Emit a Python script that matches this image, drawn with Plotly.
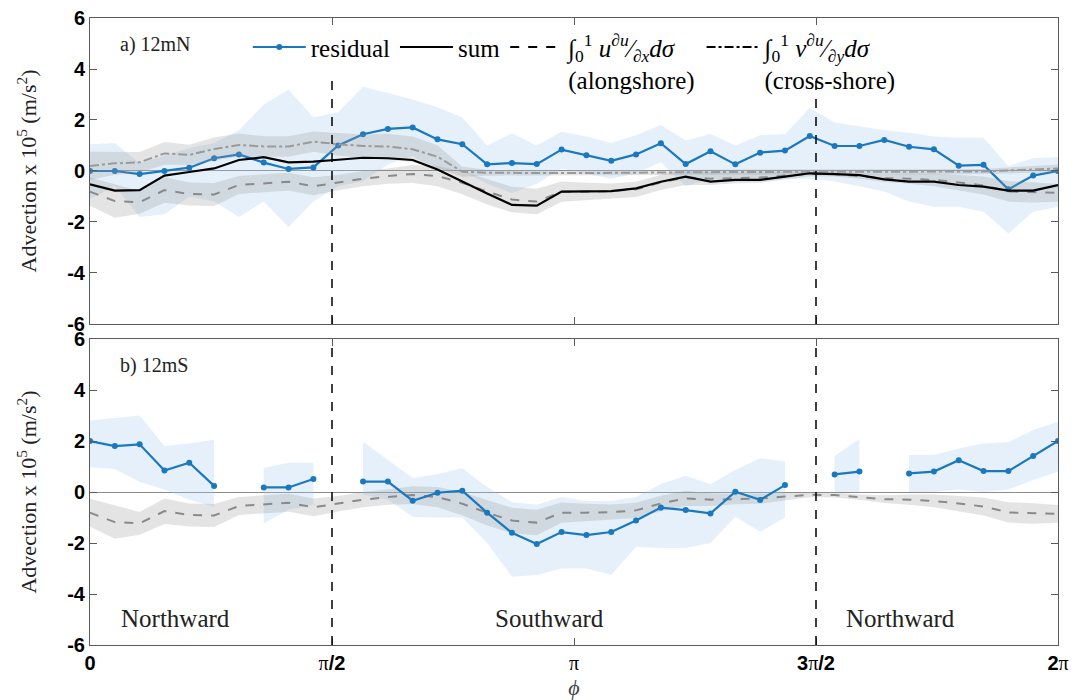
import numpy as np
import plotly.graph_objects as go

# ---------------- data ----------------
n_pts = 40
phi = np.linspace(0, 2 * np.pi, n_pts)

# panel a) 12mN
residual_a = [0.0, 0.0, -0.12, 0.0, 0.13, 0.5, 0.65, 0.33, 0.08, 0.14, 1.0, 1.44, 1.65, 1.71, 1.24, 1.05,
              0.26, 0.31, 0.27, 0.84, 0.62, 0.40, 0.65, 1.09, 0.27, 0.77, 0.26, 0.72, 0.80, 1.37, 0.98,
              0.98, 1.22, 0.95, 0.85, 0.21, 0.24, -0.72, -0.18, 0.0]
residual_a_hi = [1.05, 1.1, 0.3, 0.6, 0.9, 1.1, 1.6, 2.6, 3.2, 2.1, 2.3, 3.3, 3.05, 2.8, 2.5, 2.1, 1.0,
                 1.48, 1.0, 1.54, 1.35, 1.1, 1.4, 1.8, 1.2, 1.45, 1.0, 1.4, 1.45, 2.47, 1.9, 1.75, 1.6,
                 1.5, 1.35, 1.3, 1.3, 0.2, 0.5, 0.55]
residual_a_lo = [-1.1, -0.6, -1.8, -1.7, -1.0, -1.2, -1.8, -1.2, -2.2, -1.2, -0.6, -0.4, 0.25, 0.6, 0.0,
                 0.0, -0.5, -0.86, -0.5, 0.1, -0.1, -0.3, -0.1, 0.35, -0.6, -0.3, -0.4, -0.4, -0.3,
                 -0.3, -0.4, -0.6, -0.8, -1.2, -1.4, -1.4, -1.6, -2.45, -1.6, -1.4]
sum_a = [-0.52, -0.77, -0.75, -0.18, -0.04, 0.10, 0.43, 0.54, 0.34, 0.37, 0.44, 0.52, 0.50, 0.43, 0.06,
         -0.42, -0.88, -1.33, -1.36, -0.81, -0.81, -0.79, -0.68, -0.42, -0.22, -0.42, -0.35, -0.35,
         -0.22, -0.09, -0.12, -0.16, -0.33, -0.42, -0.42, -0.55, -0.61, -0.77, -0.77, -0.55]
cross_a = [0.20, 0.30, 0.34, 0.69, 0.63, 0.86, 1.02, 0.96, 0.96, 1.15, 1.05, 0.98, 0.96, 0.85, 0.56,
           -0.03, -0.07, -0.08, -0.08, -0.08, -0.08, -0.08, -0.07, -0.06, -0.05, -0.04, -0.04, -0.04,
           -0.03, -0.03, -0.03, -0.03, -0.03, -0.03, -0.03, -0.03, -0.02, 0.02, 0.06, 0.10]
cross_err = [0.55, 0.45, 0.4, 0.45, 0.4, 0.45, 0.45, 0.4, 0.4, 0.4, 0.45, 0.45, 0.5, 0.5, 0.45, 0.2,
             0.12, 0.1, 0.1, 0.1, 0.1, 0.1, 0.1, 0.1, 0.1, 0.1, 0.1, 0.1, 0.1, 0.1, 0.1, 0.1, 0.1, 0.1,
             0.1, 0.1, 0.1, 0.12, 0.14, 0.15]

# alongshore term (same in both panels)
along = [-0.81, -1.18, -1.23, -0.75, -0.90, -0.92, -0.55, -0.48, -0.42, -0.60, -0.46, -0.30, -0.20,
         -0.12, -0.20, -0.46, -0.81, -1.12, -1.20, -0.81, -0.81, -0.79, -0.72, -0.45, -0.25, -0.30,
         -0.28, -0.26, -0.18, -0.11, -0.12, -0.20, -0.28, -0.30, -0.35, -0.45, -0.57, -0.80, -0.84, -0.86]
along_err = [0.55, 0.65, 0.45, 0.5, 0.45, 0.45, 0.35, 0.35, 0.35, 0.35, 0.3, 0.3, 0.3, 0.35, 0.4, 0.45,
             0.5, 0.5, 0.5, 0.4, 0.35, 0.3, 0.3, 0.3, 0.3, 0.25, 0.2, 0.2, 0.15, 0.1, 0.1, 0.1, 0.15,
             0.2, 0.25, 0.3, 0.35, 0.4, 0.4, 0.35]

# panel b) 12mS
residual_b = [2.0, 1.8, 1.87, 0.84, 1.15, 0.24, None, 0.18, 0.18, 0.51, None, 0.41, 0.41, -0.34, -0.03,
              0.05, -0.81, -1.6, -2.04, -1.57, -1.69, -1.57, -1.12, -0.61, -0.71, -0.84, 0.01, -0.31,
              0.27, None, 0.69, 0.8, None, 0.73, 0.8, 1.25, 0.82, 0.82, 1.41, 2.0]
residual_b_hi = [2.8, 2.9, 3.0, 1.8, 1.9, 2.05, None, 0.95, 1.15, 1.15, None, 1.97, 1.25, 0.55, 0.7,
                 0.93, 0.2, -0.4, -0.5, -0.2, -0.35, -0.35, -0.2, 0.31, 0.64, 0.3, 0.86, 1.32, 1.2,
                 None, 1.41, 2.08, None, 1.45, 1.45, 1.71, 1.9, 1.95, 2.43, 2.76]
residual_b_lo = [0.97, 0.9, 0.4, 0.1, -0.3, -0.58, None, -1.23, -0.7, -0.5, None, -0.1, -0.3, -0.97,
                 -1.0, -1.0, -2.0, -3.32, -3.25, -3.0, -3.0, -3.25, -2.15, -2.2, -2.2, -2.0, -0.97,
                 -1.56, -1.0, None, 0.0, 0.0, None, 0.0, 0.0, 0.1, 0.0, 0.1, 0.47, 0.8]

x_tickvals = [0, np.pi / 2, np.pi, 3 * np.pi / 2, 2 * np.pi]
PI = "<span style='font-family:Liberation Serif;font-weight:normal'>π</span>"
x_ticktext = ["0", PI + "/2", PI, "3" + PI + "/2", "2" + PI]
y_tickvals = [-6, -4, -2, 0, 2, 4, 6]
y_ticktext = ["-6", "-4", "-2", "0", "2", "4", "6"]
flow_bounds = [np.pi / 2, 3 * np.pi / 2]
top_line_end = 3.85

# ---------------- styles ----------------
BLUE = "#1a78bf"
BLUE_FILL = "rgba(160,200,238,0.28)"
GREY_FILL = "rgba(150,150,150,0.26)"
SERIF = "Liberation Serif"
SANS = "Liberation Sans"
AX = "#5a5a5a"


def segments(x, hi, lo):
    seg = []
    for xi, h, l in zip(x, hi, lo):
        if h is None or l is None:
            if seg:
                yield seg
            seg = []
        else:
            seg.append((xi, h, l))
    if seg:
        yield seg


def band(x, hi, lo, color, xa, ya):
    out = []
    for seg in segments(x, hi, lo):
        xs = [s[0] for s in seg] + [s[0] for s in reversed(seg)]
        ys = [s[1] for s in seg] + [s[2] for s in reversed(seg)]
        out.append(go.Scatter(x=xs, y=ys, fill="toself", fillcolor=color, mode="lines",
                              line=dict(width=0), showlegend=False, hoverinfo="skip",
                              xaxis=xa, yaxis=ya))
    return out


fig = go.Figure()

# ---- panel a ----
for t in band(phi, residual_a_hi, residual_a_lo, BLUE_FILL, "x", "y"):
    fig.add_trace(t)
fig.add_trace(go.Scatter(x=phi, y=residual_a, mode="lines+markers", line=dict(color=BLUE, width=2.2),
                         marker=dict(size=6, color=BLUE), showlegend=False, xaxis="x", yaxis="y"))
cross_hi = [c + e for c, e in zip(cross_a, cross_err)]
cross_lo = [c - e for c, e in zip(cross_a, cross_err)]
along_hi = [a + e for a, e in zip(along, along_err)]
along_lo = [a - e for a, e in zip(along, along_err)]
for t in band(phi, cross_hi, cross_lo, GREY_FILL, "x", "y"):
    fig.add_trace(t)
for t in band(phi, along_hi, along_lo, GREY_FILL, "x", "y"):
    fig.add_trace(t)
fig.add_trace(go.Scatter(x=phi, y=cross_a, mode="lines", line=dict(color="#9a9a9a", width=2, dash="dashdot"),
                         showlegend=False, xaxis="x", yaxis="y"))
fig.add_trace(go.Scatter(x=phi, y=along, mode="lines", line=dict(color="#8a8a8a", width=2, dash="dash"),
                         showlegend=False, xaxis="x", yaxis="y"))
fig.add_trace(go.Scatter(x=phi, y=sum_a, mode="lines", line=dict(color="black", width=2.2),
                         showlegend=False, xaxis="x", yaxis="y"))

# ---- panel b ----
for t in band(phi, residual_b_hi, residual_b_lo, BLUE_FILL, "x2", "y2"):
    fig.add_trace(t)
for t in band(phi, along_hi, along_lo, GREY_FILL, "x2", "y2"):
    fig.add_trace(t)
fig.add_trace(go.Scatter(x=phi, y=along, mode="lines", line=dict(color="#8a8a8a", width=2, dash="dash"),
                         showlegend=False, xaxis="x2", yaxis="y2"))
fig.add_trace(go.Scatter(x=phi, y=residual_b, mode="lines+markers", line=dict(color=BLUE, width=2.2),
                         marker=dict(size=6, color=BLUE), connectgaps=False, showlegend=False,
                         xaxis="x2", yaxis="y2"))

# ---- legend entries ----
leg = [
    ("residual", dict(color=BLUE, width=2.2), "lines+markers"),
    ("sum", dict(color="black", width=2.2), "lines"),
    ("∫<sub>0</sub><sup>1</sup> <i>u</i><sup>∂<i>u</i></sup>⁄<sub>∂<i>x</i></sub><i>dσ</i><br>(alongshore)",
     dict(color="black", width=2, dash="dash"), "lines"),
    ("∫<sub>0</sub><sup>1</sup> <i>v</i><sup>∂<i>u</i></sup>⁄<sub>∂<i>y</i></sub><i>dσ</i><br>(cross-shore)",
     dict(color="black", width=2, dash="dashdot"), "lines"),
]
for name, ln, mode in leg:
    fig.add_trace(go.Scatter(x=[None], y=[None], mode=mode, name=name, line=ln,
                             marker=dict(size=6, color=BLUE), xaxis="x", yaxis="y"))

# ---- boundary lines ----
shapes = []
for b in flow_bounds:
    shapes.append(dict(type="line", xref="x", yref="y", x0=b, x1=b, y0=-6, y1=top_line_end,
                       line=dict(color="black", width=1.5, dash="dash")))
    shapes.append(dict(type="line", xref="x2", yref="y2", x0=b, x1=b, y0=-6, y1=6,
                       line=dict(color="black", width=1.5, dash="dash")))

axis_common = dict(showline=True, linecolor=AX, linewidth=1, mirror="ticks", ticks="inside",
                   ticklen=7, tickcolor=AX, showgrid=False, automargin=False)
yt = dict(tickvals=y_tickvals, ticktext=y_ticktext, range=[-6, 6], zeroline=True,
          zerolinecolor="#8c8c8c", zerolinewidth=1.2,
          tickfont=dict(family=SANS, size=20, color="black", weight="bold"),
          title=dict(text="Advection x 10<sup>5</sup> (m/s<sup>2</sup>)",
                     font=dict(family=SERIF, size=22, color="#222"), standoff=24),
          **axis_common)

ann_font = dict(family=SERIF, size=20, color="#222")
dir_font = dict(family=SERIF, size=25, color="#222")

fig.update_layout(
    width=1086, height=700,
    margin=dict(l=90, r=28, t=18, b=55),
    paper_bgcolor="white", plot_bgcolor="white",
    shapes=shapes,
    xaxis=dict(domain=[0, 1], anchor="y", range=[0, 2 * np.pi], tickvals=x_tickvals,
               showticklabels=False, zeroline=False, **axis_common),
    yaxis=dict(domain=[0.512, 1], anchor="x", **yt),
    xaxis2=dict(domain=[0, 1], anchor="y2", range=[0, 2 * np.pi], tickvals=x_tickvals,
                ticktext=x_ticktext, zeroline=False,
                tickfont=dict(family=SANS, size=20, color="black", weight="bold"),
                title=dict(text="<i>ϕ</i>", font=dict(family=SERIF, size=22, color="#444"), standoff=8),
                **axis_common),
    yaxis2=dict(domain=[0, 0.488], anchor="x2", **yt),
    legend=dict(orientation="h", x=0.163, y=0.99, xanchor="left", yanchor="top",
                bgcolor="rgba(0,0,0,0)", font=dict(family=SERIF, size=25, color="black"),
                valign="top", itemwidth=53, tracegroupgap=0),
    annotations=[
        dict(text="a) 12mN", xref="x domain", yref="y domain", x=0.029, y=0.912, xanchor="left",
             yanchor="middle", showarrow=False, font=ann_font),
        dict(text="b) 12mS", xref="x2 domain", yref="y2 domain", x=0.029, y=0.915, xanchor="left",
             yanchor="middle", showarrow=False, font=ann_font),
        dict(text="Northward", xref="x2 domain", yref="y2 domain", x=0.088, y=0.085, xanchor="center",
             yanchor="middle", showarrow=False, font=dir_font),
        dict(text="Southward", xref="x2 domain", yref="y2 domain", x=0.475, y=0.085, xanchor="center",
             yanchor="middle", showarrow=False, font=dir_font),
        dict(text="Northward", xref="x2 domain", yref="y2 domain", x=0.837, y=0.085, xanchor="center",
             yanchor="middle", showarrow=False, font=dir_font),
    ],
)

fig.write_html("out.html")
